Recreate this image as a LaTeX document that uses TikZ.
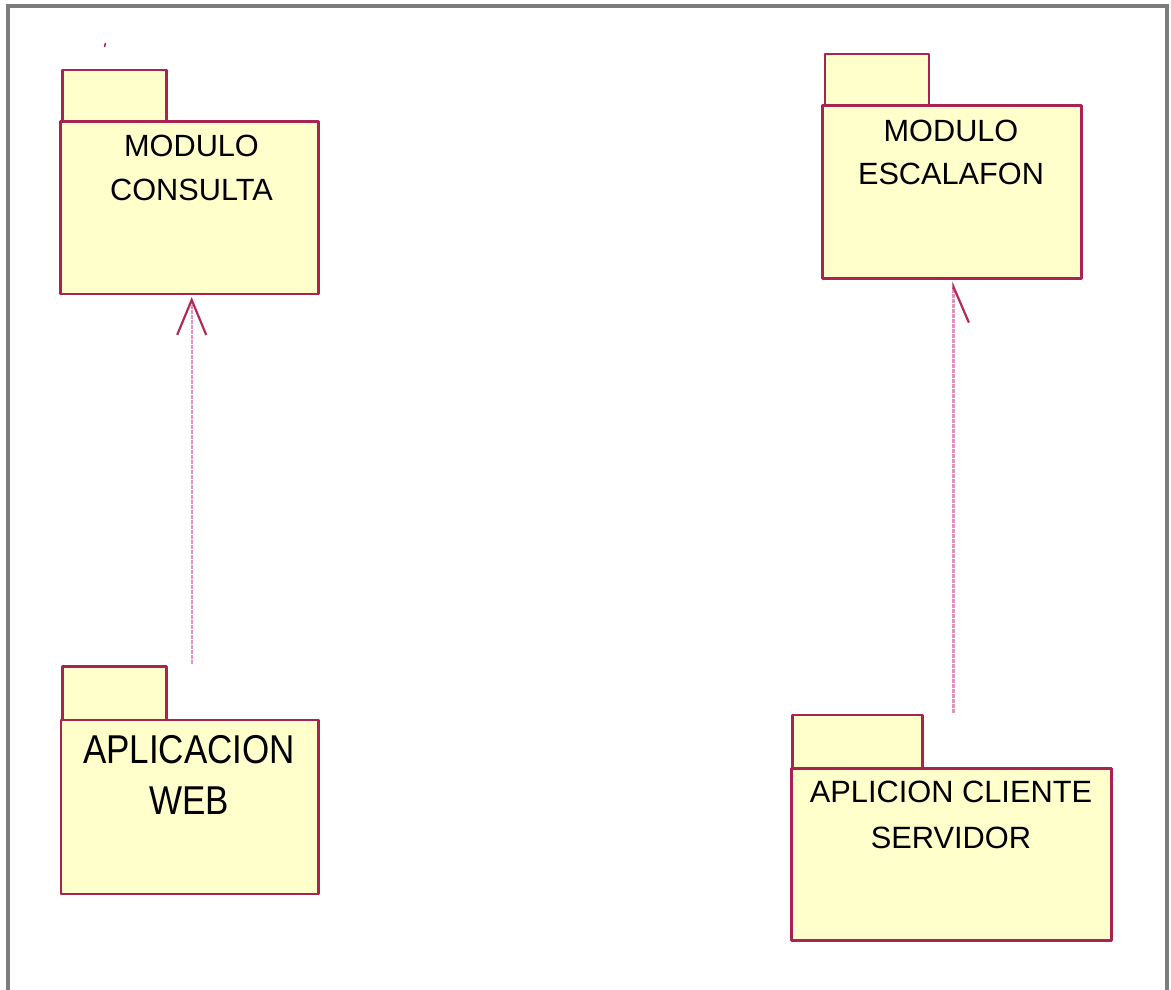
\documentclass[tikz,border=0pt]{standalone}
\usepackage{fontspec}
\setmainfont{Liberation Sans}
\usetikzlibrary{arrows.meta}
\definecolor{pkgline}{HTML}{A8234F}
\definecolor{pkgfill}{HTML}{FFFFCC}
\definecolor{depline}{HTML}{E592BA}
\definecolor{arrowc}{HTML}{B02A5C}
\definecolor{framec}{HTML}{7C7C7C}
\begin{document}
\begin{tikzpicture}[x=1pt,y=-1pt,
  pkg/.style={draw=pkgline, fill=pkgfill, line width=2.5pt, line join=round, inner sep=0pt, outer sep=0pt},
  lbl/.style={align=center, inner sep=0pt, text=black},
  dep/.style={draw=depline, line width=2.4pt, dash pattern=on 4pt off 1pt},
  framestyle/.style={draw=framec, line width=3.5pt}]
\useasboundingbox (0,0) rectangle (1171,989);
\draw[framestyle] (8,995) -- (8,6) -- (1167,6) -- (1167,995);
\draw[pkgline, line width=1.5pt] (105.5,43) -- (104.5,47);
% package 1
\node[pkg, minimum width=104, minimum height=51.7] (consultatab) at (114.7,95.85) {};
\node[pkg, minimum width=257.6, minimum height=172.3] (consultabody) at (189.5,207.85) {};
\node[lbl, font=\fontsize{30.7}{44}\selectfont] (consultalbl) at (191.5,168) {MODULO\\CONSULTA};
% package 2
\node[pkg, minimum width=104, minimum height=51.7] (esctab) at (877,79.85) {};
\node[pkg, minimum width=259, minimum height=172.6] (escbody) at (952.2,192) {};
\node[lbl, font=\fontsize{30.7}{43}\selectfont] (esclbl) at (951,152.5) {MODULO\\ESCALAFON};
% package 3
\node[pkg, minimum width=104, minimum height=53.3] (webtab) at (114.7,693.35) {};
\node[pkg, minimum width=257.3, minimum height=174] (webbody) at (189.65,807) {};
\begin{scope}[shift={(189,775)}, yscale=1.15]
\node[lbl, transform shape, font=\fontsize{35}{44.5}\selectfont] (weblbl) at (0,0) {APLICACION\\WEB};
\end{scope}
% package 4
\node[pkg, minimum width=129.6, minimum height=53.3] (cstab) at (857.5,741.65) {};
\node[pkg, minimum width=320, minimum height=172.4] (csbody) at (951.7,854.5) {};
\node[lbl, font=\fontsize{30.8}{45.5}\selectfont] (cslbl) at (951,814.7) {APLICION CLIENTE\\SERVIDOR};
% dependencies
\coordinate (d1) at (191.7,664);
\draw[dep, -{Straight Barb[length=35pt, width=29pt, line width=2.2pt, color=arrowc]}] (d1) -- ([yshift=-3pt]d1 |- consultabody.south);
\coordinate (d2) at (953.4,713);
\draw[dep, -{Straight Barb[harpoon, swap, length=36pt, width=31pt, line width=2.2pt, color=arrowc]}] (d2) -- ([yshift=-3pt]d2 |- escbody.south);
\end{tikzpicture}
\end{document}
